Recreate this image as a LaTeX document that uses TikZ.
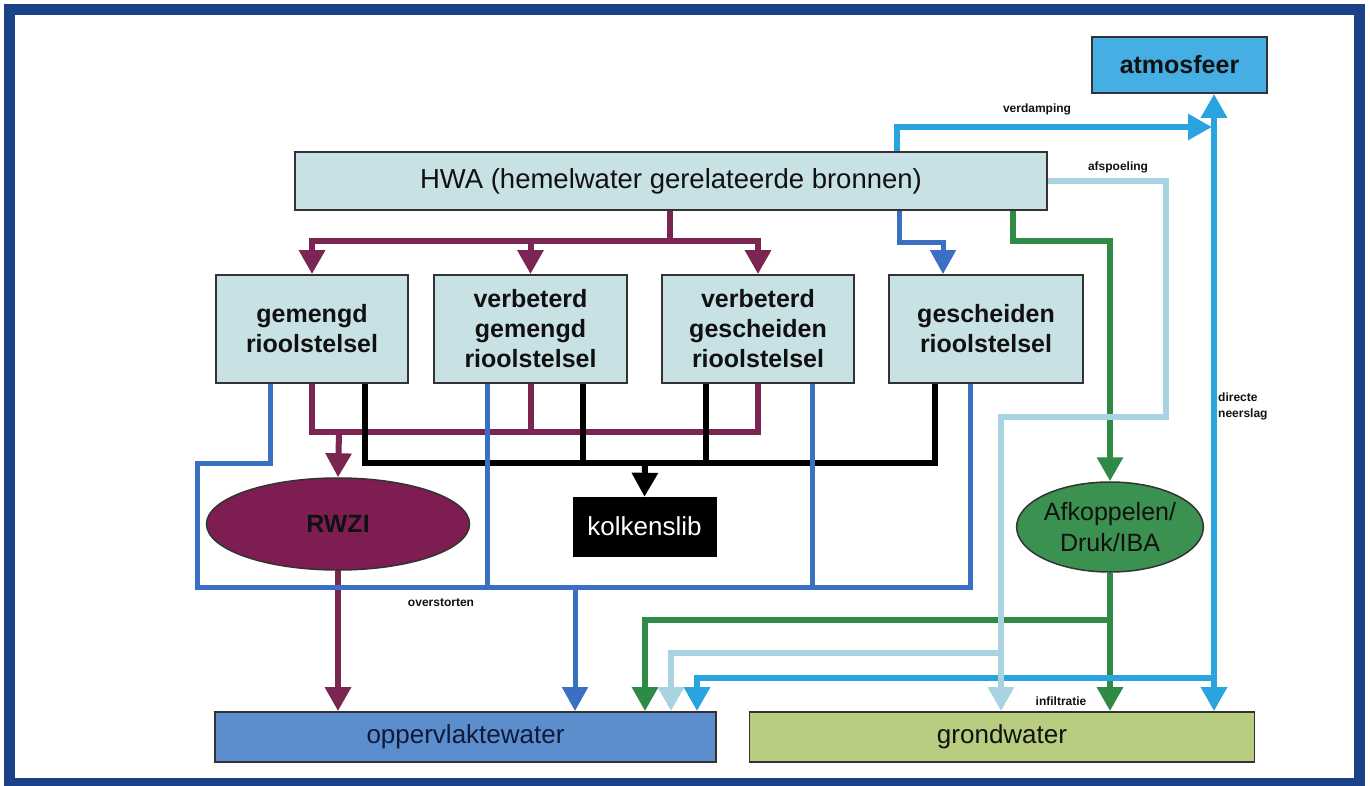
\documentclass[tikz,border=0pt]{standalone}
\usepackage{fontspec}
\setmainfont{Liberation Sans}
\usetikzlibrary{arrows.meta,shapes.geometric}
\definecolor{frameblue}{HTML}{1B4289}
\definecolor{maroon}{HTML}{7B2553}
\definecolor{rwzifill}{HTML}{7E1D52}
\definecolor{midblue}{HTML}{3B6FC1}
\definecolor{cyanblue}{HTML}{2AA4DE}
\definecolor{lightblue}{HTML}{A9D3E1}
\definecolor{dgreen}{HTML}{2F8A46}
\definecolor{afkfill}{HTML}{3B9150}
\definecolor{boxfill}{HTML}{C7E1E5}
\definecolor{boxline}{HTML}{333333}
\definecolor{atmfill}{HTML}{45AEE3}
\definecolor{oppfill}{HTML}{5C8DCC}
\definecolor{grondfill}{HTML}{B8CD7F}
\definecolor{txtdark}{HTML}{111111}
\definecolor{opptext}{HTML}{0E1A3A}
\tikzset{
  box/.style={draw=boxline, line width=1.8pt, fill=boxfill, inner sep=0pt, align=center, text=txtdark},
  boxlabel/.style={font=\bfseries\fontsize{25}{30}\selectfont},
  flow/.style={line width=6pt, line join=miter},
  tip/.style={-{Triangle[width=25pt,length=24pt]}},
  bothtip/.style={{Triangle[width=25pt,length=24pt]}-{Triangle[width=25pt,length=24pt]}},
  mar/.style={flow, draw=maroon, color=maroon},
  blk/.style={flow, draw=black, color=black},
  blu/.style={flow, line width=5pt, draw=midblue, color=midblue},
  cya/.style={flow, draw=cyanblue, color=cyanblue},
  lbl/.style={flow, draw=lightblue, color=lightblue},
  grn/.style={flow, draw=dgreen, color=dgreen},
  small/.style={font=\bfseries\fontsize{12}{14}\selectfont, text=txtdark, inner sep=0pt}
}
\begin{document}
\begin{tikzpicture}[x=1pt,y=-1pt]
\useasboundingbox (0,0) rectangle (1370,785);
\fill[white] (0,0) rectangle (1370,785);
\draw[frameblue, line width=11pt] (9.5,9.5) rectangle (1359.5,783);

% nodes
\node[box, fill=atmfill, minimum width=175pt, minimum height=56pt, boxlabel] (atm) at (1179.5,65) {atmosfeer};
\node[box, minimum width=752pt, minimum height=58pt, font=\fontsize{27.5}{30}\selectfont] (hwa) at (671,181) {HWA (hemelwater gerelateerde bronnen)};
\node[box, minimum width=192pt, minimum height=108pt, boxlabel] (gem) at (312,329) {gemengd\\rioolstelsel};
\node[box, minimum width=193pt, minimum height=108pt, boxlabel] (vgm) at (530.5,329) {verbeterd\\gemengd\\rioolstelsel};
\node[box, minimum width=192pt, minimum height=108pt, boxlabel] (vgs) at (758,329) {verbeterd\\gescheiden\\rioolstelsel};
\node[box, minimum width=194pt, minimum height=108pt, boxlabel] (ges) at (986,329) {gescheiden\\rioolstelsel};
\node[ellipse, draw=boxline, line width=1.5pt, fill=rwzifill, minimum width=263pt, minimum height=92pt, inner sep=0pt, boxlabel, text=txtdark] (rwzi) at (338,524) {RWZI};
\node[draw=black, fill=black, minimum width=143pt, minimum height=59pt, inner sep=0pt, text=white, font=\fontsize{26}{30}\selectfont] (kolk) at (644.5,526.5) {kolkenslib};
\node[ellipse, draw=boxline, line width=1.5pt, fill=afkfill, minimum width=168pt, minimum height=90pt, inner sep=0pt, align=center, text=txtdark, font=\fontsize{25}{31}\selectfont] (afk) at (1110,527) {Afkoppelen/\\Druk/IBA};
\node[box, fill=oppfill, minimum width=501pt, minimum height=50pt, text=opptext, font=\fontsize{26}{30}\selectfont] (opp) at (465.5,737) {oppervlaktewater};
\node[box, fill=grondfill, minimum width=505pt, minimum height=50pt, font=\fontsize{26}{30}\selectfont] (grond) at (1002,737) {grondwater};

% coordinates
\coordinate (mT) at (670,241);
\coordinate (mB) at (339,432);
\coordinate (k1) at (365,463);
\coordinate (k2) at (583,463);
\coordinate (k3) at (706,463);
\coordinate (k4) at (935,463);
\coordinate (kB) at (645,463);
\coordinate (b1) at (270,463);
\coordinate (b2) at (197,463);
\coordinate (b3) at (197,587);
\coordinate (b4) at (970,587);
\coordinate (b5) at (487,587);
\coordinate (b6) at (812,587);
\coordinate (b7) at (575,587);
\coordinate (h1) at (899,242);
\coordinate (h2) at (943,242);
\coordinate (c1) at (897,127);
\coordinate (c2) at (1212,127);
\coordinate (c3) at (1214,678);
\coordinate (c4) at (697,678);
\coordinate (l1) at (1166,181);
\coordinate (l2) at (1166,417);
\coordinate (l3) at (1001,417);
\coordinate (l4) at (1001,653);
\coordinate (l5) at (671,653);
\coordinate (g1) at (1013,241);
\coordinate (g2) at (1110,241);
\coordinate (g3) at (1110,620);
\coordinate (g4) at (645,620);

% maroon
\draw[mar,tip] (hwa.south -| mT) -- (mT) -| (gem.north);
\draw[mar,tip] (mT) -| (vgm.north);
\draw[mar,tip] (mT) -| (vgs.north);
\draw[mar] (gem.south) |- (vgs.south |- mB) -- (vgs.south);
\draw[mar] (vgm.south) -- (vgm.south |- mB);
\draw[mar,tip] (mB) -- (rwzi.north);
\draw[mar,tip] (rwzi.south) -- (opp.north -| rwzi.south);

% black
\draw[blk] (gem.south -| k1) -- (k1) -- (k4) -- (ges.south -| k4);
\draw[blk] (vgm.south -| k2) -- (k2);
\draw[blk] (vgs.south -| k3) -- (k3);
\draw[blk,tip] (kB) -- (kolk.north);

% mid blue
\draw[blu] (gem.south -| b1) -- (b1) -- (b2) -- (b3) -- (b4) -- (ges.south -| b4);
\draw[blu] (vgm.south -| b5) -- (b5);
\draw[blu] (vgs.south -| b6) -- (b6);
\draw[blu,tip] (b7) -- (opp.north -| b7);
\draw[blu,tip] (hwa.south -| h1) -- (h1) -- (h2) -- (ges.north -| h2);

% green
\draw[grn,tip] (hwa.south -| g1) -- (g1) -- (g2) -- (afk.north);
\draw[grn,tip] (afk.south) -- (grond.north -| afk.south);
\draw[grn,tip] (g3) -- (g4) -- (opp.north -| g4);

% cyan
\draw[cya,tip] (hwa.north -| c1) -- (c1) -- (c2);
\draw[cya,tip] (c3) -- (c4) -- (opp.north -| c4);
\draw[cya,bothtip] (grond.north -| c3) -- (atm.south -| c3);

% light blue
\draw[lbl,tip] (hwa.east) -- (l1) -- (l2) -- (l3) -- (grond.north -| l3);
\draw[lbl,tip] (l4) -- (l5) -- (opp.north -| l5);

% labels
\node[small] (tverd) at (1037,109) {verdamping};
\node[small] (tafsp) at (1118,167) {afspoeling};
\node[small, anchor=west, align=left, font=\bfseries\fontsize{12}{16}\selectfont] (tdir) at (1218,406) {directe\\neerslag};
\node[small] (tover) at (441,603) {overstorten};
\node[small] (tinf) at (1061,701) {infiltratie};
\end{tikzpicture}
\end{document}
